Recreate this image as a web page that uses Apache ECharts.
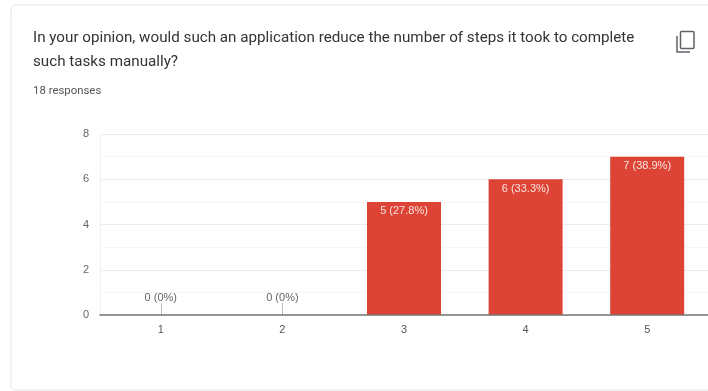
<!DOCTYPE html>
<html>
<head>
<meta charset="utf-8">
<style>html,body{margin:0;padding:0;background:#fff}#chart{width:708px;height:391px}</style>
<script src="https://cdn.jsdelivr.net/npm/echarts@6/dist/echarts.min.js"></script>
</head>
<body>
<div id="chart"></div>
<script>
const categories = ['1', '2', '3', '4', '5'];
const counts = [0, 0, 5, 6, 7];
const percentLabels = ['0%', '0%', '27.8%', '33.3%', '38.9%'];
const yTicks = [0, 2, 4, 6, 8];
const questionLines = [
  'In your opinion, would such an application reduce the number of steps it took to complete',
  'such tasks manually?'
];
const responsesText = '18 responses';

const chart = echarts.init(document.getElementById('chart'), null, { renderer: 'canvas' });
const textFont = 'Roboto, "Liberation Sans", sans-serif';
const labelFont = '"Liberation Sans", Arial, sans-serif';

// Short leader lines that tie the empty categories to their labels.
const stems = counts
  .map((v, i) => [v, i])
  .filter(([v]) => v === 0)
  .map(([v, i]) => [{ coord: [i, 0] }, { coord: [i, 0.53] }]);

// Empty categories carry a dark label above the leader line; filled bars a pale one inside.
const barData = counts.map(v => (v === 0
  ? { value: v, label: { position: 'top', distance: 12, color: '#666' } }
  : { value: v }));

chart.setOption({
  animation: false,
  backgroundColor: '#fff',
  grid: { left: 100, right: 0, top: 134, height: 181, containLabel: false },
  xAxis: {
    type: 'category',
    data: categories,
    axisTick: { show: false },
    axisLine: { lineStyle: { color: '#757575', width: 1.5 } },
    axisLabel: { color: '#555', fontFamily: labelFont, fontSize: 11, margin: 9 },
    z: 5
  },
  yAxis: {
    type: 'value',
    min: 0,
    max: 8,
    interval: 2,
    axisLine: { show: true, lineStyle: { color: '#f0f0f0' } },
    axisTick: { show: false },
    axisLabel: {
      color: '#666', fontFamily: labelFont, fontSize: 11, margin: 11,
      formatter: v => (yTicks.includes(v) ? String(v) : '')
    },
    splitLine: { show: true, lineStyle: { color: '#ececec' } },
    minorTick: { show: false, splitNumber: 2 },
    minorSplitLine: { show: true, lineStyle: { color: '#f6f6f6' } }
  },
  series: [{
    type: 'bar',
    data: barData,
    barWidth: 74,
    itemStyle: { color: '#dd4435' },
    label: {
      show: true,
      fontFamily: labelFont,
      fontSize: 11,
      formatter: p => `${p.value} (${percentLabels[p.dataIndex]})`,
      position: 'insideTop',
      distance: 4,
      color: '#f7e4e0'
    },
    markLine: {
      silent: true,
      symbol: 'none',
      label: { show: false },
      lineStyle: { color: '#bdbdbd', width: 1, type: 'solid' },
      data: stems
    }
  }],
  graphic: [
    {
      type: 'rect', z: -1,
      shape: { x: 11, y: 5, width: 720, height: 385, r: 5 },
      style: { fill: '#fff', stroke: '#e6e6e6', lineWidth: 1 }
    },
    {
      type: 'text', left: 33, top: 31,
      style: { text: questionLines[0], font: '15.2px ' + textFont, fill: '#333' }
    },
    {
      type: 'text', left: 33, top: 55,
      style: { text: questionLines[1], font: '15.2px ' + textFont, fill: '#333' }
    },
    {
      type: 'text', left: 33, top: 86,
      style: { text: responsesText, font: '11.4px ' + textFont, fill: '#555' }
    },
    {
      type: 'rect',
      shape: { x: 680.5, y: 31.5, width: 13.5, height: 17, r: 1 },
      style: { fill: 'none', stroke: '#5f6368', lineWidth: 1.5 }
    },
    {
      type: 'polyline',
      shape: { points: [[677, 36], [677, 52], [690, 52]] },
      style: { fill: 'none', stroke: '#5f6368', lineWidth: 1.5 }
    }
  ]
});
</script>
</body>
</html>
